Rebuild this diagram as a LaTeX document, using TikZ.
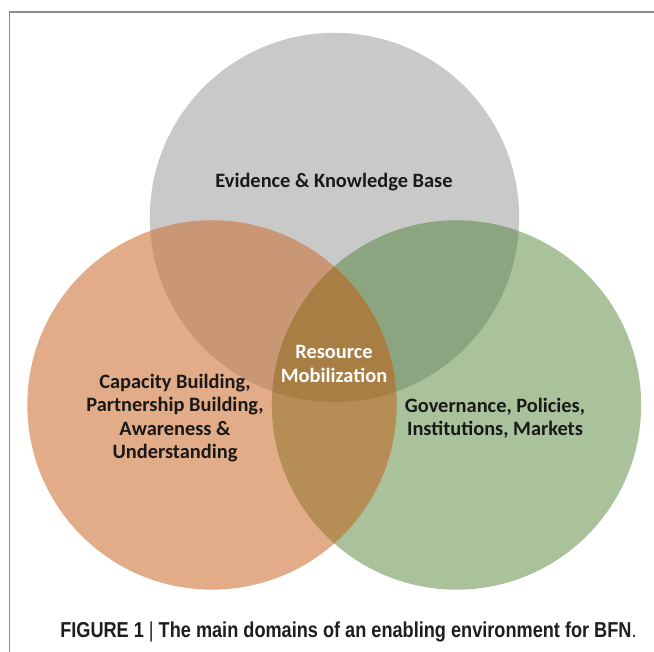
\documentclass[tikz,border=0pt]{standalone}
\usepackage{fontspec}
\setmainfont{Carlito}
\newfontfamily\capfont[FakeStretch=0.84]{Liberation Sans}
\usetikzlibrary{positioning, calc}
\definecolor{framegray}{HTML}{8C8C8C}
\definecolor{kbgray}{HTML}{C9C9C9}
\definecolor{cborange}{HTML}{E2AC88}
\definecolor{govgreen}{HTML}{A9C29B}
\definecolor{kbcb}{HTML}{C99676}
\definecolor{kbgov}{HTML}{8BA580}
\definecolor{cbgov}{HTML}{B68D55}
\definecolor{allthree}{HTML}{A97E45}
\definecolor{captext}{HTML}{1E1E1E}

\begin{document}
\begin{tikzpicture}[x=0.75pt, y=-0.75pt,
    domtext/.style={font=\bfseries\fontsize{15.3}{17.5}\selectfont, align=center, text=black!90},
    figcaption/.style={font=\capfont\fontsize{16.2}{18}\selectfont, text=captext, anchor=base west, inner sep=0pt}]

    \useasboundingbox (0,0) rectangle (654,652);
    \draw [framegray, line width=0.8pt] (654,12) -- (9.5,12) -- (9.5,652);

    \coordinate (kb) at (334.5,217.5);
    \coordinate (cb) at (212,405);
    \coordinate (gov) at (456.5,405);
    \def\rad{138.5pt}

    % the three domains
    \fill [kbgray] (kb) circle (\rad);
    \fill [cborange] (cb) circle (\rad);
    \fill [govgreen] (gov) circle (\rad);

    % overlaps
    \begin{scope}
        \clip (kb) circle (\rad);
        \fill [kbcb] (cb) circle (\rad);
        \fill [kbgov] (gov) circle (\rad);
    \end{scope}
    \begin{scope}
        \clip (cb) circle (\rad);
        \fill [cbgov] (gov) circle (\rad);
        \clip (kb) circle (\rad);
        \fill [allthree] (gov) circle (\rad);
    \end{scope}

    \node [domtext] (kbtext) at (334,182) {Evidence \& Knowledge Base};
    \node [domtext] (cbtext) at (175,418) {Capacity Building,\\Partnership Building,\\Awareness \&\\Understanding};
    \node [domtext] (govtext) at (495,418) {Governance, Policies,\\Institutions, Markets};
    \node [domtext, text=white] (rmtext) at (334,364) {Resource\\Mobilization};

    \node [figcaption] (figcap) at (60,637) {\bfseries FIGURE 1 \mdseries| \bfseries The main domains of an enabling environment for BFN\mdseries.};
\end{tikzpicture}
\end{document}
